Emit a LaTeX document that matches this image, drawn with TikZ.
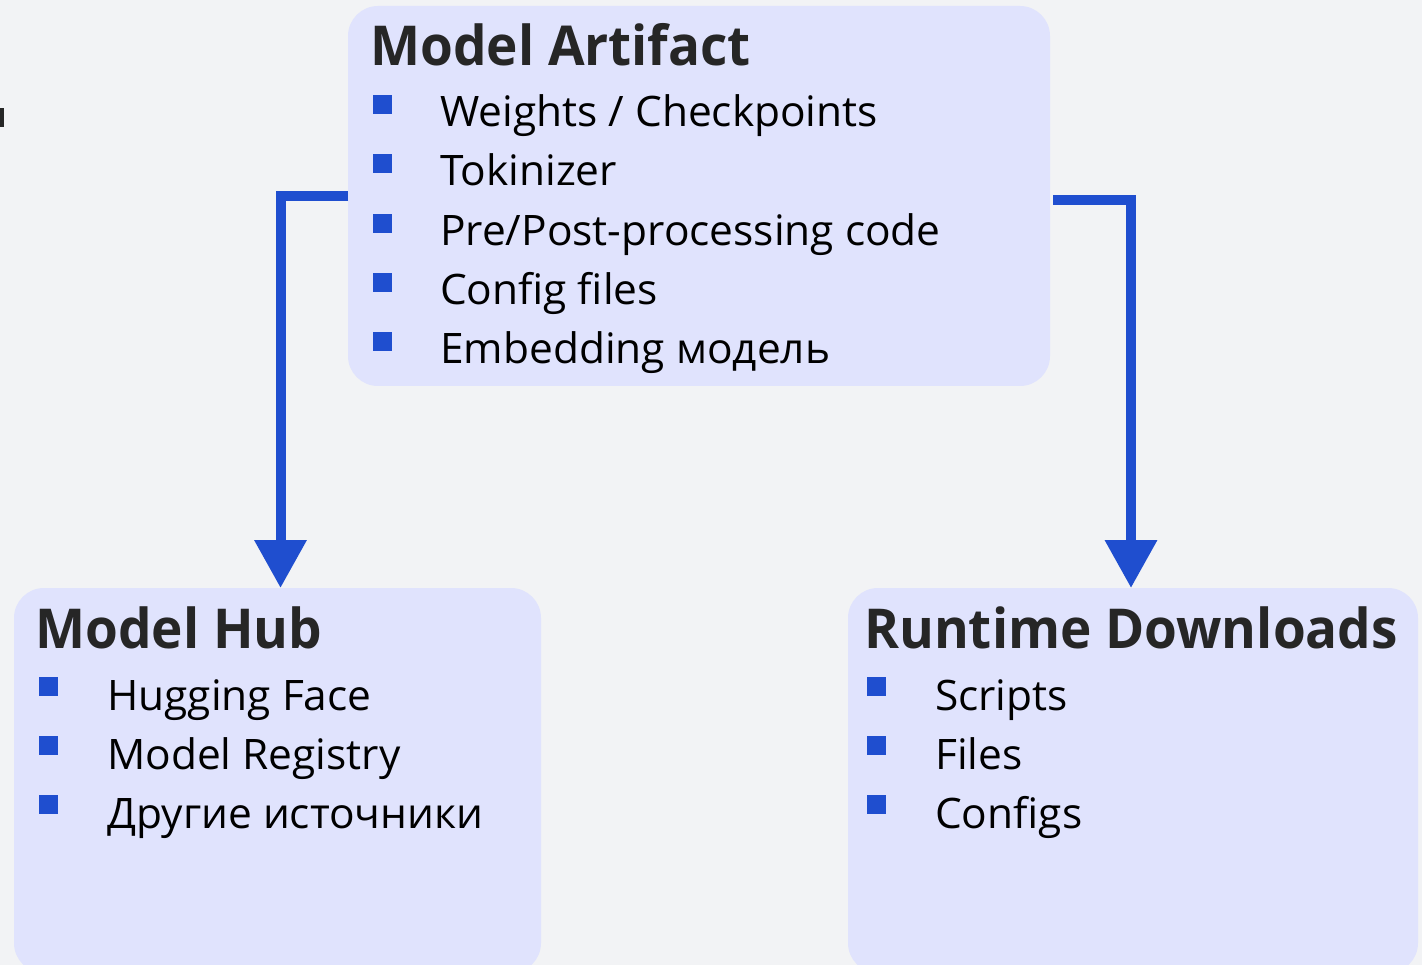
\documentclass[tikz,border=0pt]{standalone}
\usepackage{fontspec}
\setmainfont{Open Sans}
\newfontfamily\ttlfont{Open Sans}[FakeStretch=0.965]
\newfontfamily\itemfont{Open Sans}[FakeStretch=1.01]
\usetikzlibrary{arrows.meta}
\definecolor{bg}{HTML}{F2F3F5}
\definecolor{boxfill}{HTML}{E0E3FD}
\definecolor{accent}{HTML}{1F4ECF}
\definecolor{titlecol}{HTML}{262626}
\begin{document}
\begin{tikzpicture}[x=1pt,y=-1pt,
  panel/.style={fill=boxfill, rounded corners=30pt, anchor=north west, inner sep=0pt, outer sep=0pt},
  ttl/.style={anchor=base west, inner sep=0pt, text=titlecol, font=\ttlfont\fontsize{55}{60}\selectfont\bfseries},
  item/.style={anchor=base west, inner sep=0pt, text=black, font=\itemfont\fontsize{42}{48}\selectfont},
  bul/.style={fill=accent, minimum size=19pt, inner sep=0pt, anchor=north west},
  conn/.style={draw=accent, line width=10pt, -{Triangle[length=48pt,width=50pt]}}
]
\useasboundingbox (0,0) rectangle (1422,965);
\clip (0,0) rectangle (1422,965);
\fill[bg] (0,0) rectangle (1422,965);
% clipped stroke at the left margin
\fill[black!85] (0,108) rectangle (4,127);

% panels
\node[panel, minimum width=702pt, minimum height=380pt] (art) at (348,6) {};
\node[panel, minimum width=527pt, minimum height=385pt] (hub) at (14,588) {};
\node[panel, minimum width=570pt, minimum height=385pt] (rt) at (848,588) {};

% Model Artifact
\node[ttl] (artT) at (370,66) {Model Artifact};
\foreach \y/\t [count=\i] in {127/{Weights / Checkpoints}, 186/Tokinizer, 246/{Pre/Post-processing code}, 305/Config files, 364/Embedding модель}{
  \node[bul] (artB\i) at (373,\y-32) {};
  \node[item] (artI\i) at (440,\y) {\t};
}

% Model Hub
\node[ttl] (hubT) at (35,648) {Model Hub};
\foreach \y/\t [count=\i] in {710/Hugging Face, 769/Model Registry, 828/Другие источники}{
  \node[bul] (hubB\i) at (39,\y-33) {};
  \node[item] (hubI\i) at (107,\y) {\t};
}

% Runtime Downloads
\node[ttl] (rtT) at (864,648) {Runtime Downloads};
\foreach \y/\t [count=\i] in {710/Scripts, 769/Files, 828/Configs}{
  \node[bul] (rtB\i) at (867,\y-33) {};
  \node[item] (rtI\i) at (935,\y) {\t};
}

% connectors
\draw[conn] (art.west) -| ([xshift=3pt]hub.north);
\draw[conn] ([xshift=3pt,yshift=-4pt]art.east) -| ([xshift=-2pt]rt.north);
\end{tikzpicture}
\end{document}
